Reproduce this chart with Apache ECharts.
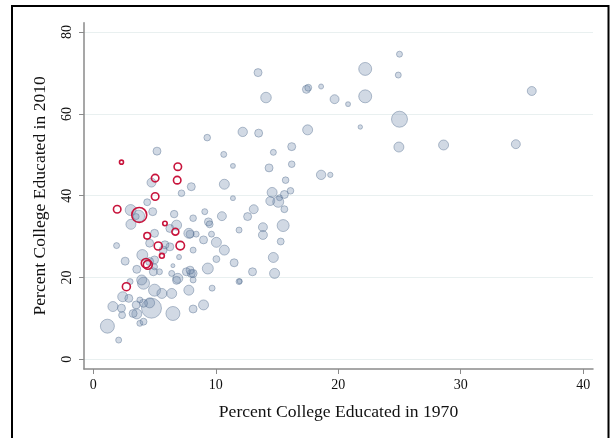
<!DOCTYPE html>
<html>
<head>
<meta charset="utf-8">
<script src="https://cdn.jsdelivr.net/npm/echarts@6/dist/echarts.min.js"></script>
<style>
html,body{margin:0;padding:0;background:#fff;}
#chart{width:613px;height:438px;}
</style>
</head>
<body>
<div id="chart"></div>
<script>
// ---- Data ----
var xTicks = [0, 10, 20, 30, 40];
var yTicks = [0, 20, 40, 60, 80];
var xTitle = 'Percent College Educated in 1970';
var yTitle = 'Percent College Educated in 2010';

// All metro areas: percent college educated 1970, 2010, population weight
var grayX1970 = [13.45,14.1,12.2,13.5,9.3,17.5,16.2,5.2,10.65,14.7,11.4,16.2,14.35,18.6,19.35,15.7,16.1,14.6,15.6,15.2,14.45,15.1,15.6,10.7,8.0,7.2,11.4,13.1,9.1,10.5,12.6,6.6,4.85,4.4,4.75,3.05,8.15,25.0,22.2,24.9,17.4,17.55,18.6,19.7,20.8,22.2,35.8,25.0,21.8,24.95,28.6,34.5,
  9.4,9.5,13.85,13.85,11.9,15.5,15.3,14.7,14.8,13.0,11.9,11.5,10.05,10.7,10.05,9.0,9.65,8.4,8.15,9.35,9.7,8.0,7.9,9.0,8.15,7.8,6.5,4.75,3.55,3.8,2.07,1.15,1.6,2.35,2.3,2.4,2.9,4.6,4.1,3.8,4.1,3.95,3.0,5.0,5.6,6.4,6.9,6.8,8.15,7.6,8.15,6.4,6.5,5.4,4.9,5.0,4.0,3.55,2.6,1.9,4.6,5.0,5.7,6.25,7.0,6.25,6.8,7.8,5.85,3.07,3.7,4.6,5.0,7.9,4.1,11.95,3.5,3.25,3.5];
var grayY2010 = [70.1,64.0,55.6,55.3,54.2,56.1,52.0,50.9,50.1,50.6,47.3,47.7,46.8,45.1,45.1,43.8,41.2,40.8,40.3,39.5,38.7,38.5,36.7,42.8,42.2,40.6,39.4,36.7,36.1,35.0,34.9,35.5,36.1,38.4,43.2,36.5,34.5,74.6,71.0,69.5,66.0,66.4,66.7,63.6,62.4,64.3,65.6,58.7,56.8,51.9,52.4,52.6,
  33.6,33.0,32.3,30.4,31.6,32.7,28.8,24.9,21.0,21.4,19.0,23.6,24.5,26.7,28.6,29.2,30.6,30.6,26.7,22.2,17.4,21.0,30.6,13.3,12.3,16.9,11.2,12.5,11.1,8.8,4.7,8.1,12.9,10.8,12.5,15.3,14.9,13.8,13.7,14.5,18.6,19.4,19.0,16.9,16.1,16.1,19.8,19.3,19.4,21.4,21.0,21.0,22.9,21.4,21.4,24.3,25.5,22.0,24.0,27.8,28.4,30.8,26.7,27.5,25.0,32.0,32.8,30.8,28.0,33.0,35.0,23.9,22.6,21.8,9.2,19.1,34.9,11.2,13.3];
var grayPop = [16,28,22,16,11,25,16,16,9,9,6,11,16,22,7,11,11,25,16,9,20,30,12,25,16,11,6,20,9,20,16,14,16,12,20,30,11,9,42,9,16,12,6,20,6,42,20,64,5,25,25,20,
  16,12,20,20,9,36,12,25,25,16,9,16,12,25,25,16,9,9,9,30,9,16,16,25,16,25,49,100,25,9,9,49,25,12,16,25,16,25,16,9,36,25,9,36,25,25,25,16,9,16,16,9,4,9,16,16,30,16,16,9,16,16,16,16,6,16,25,25,16,25,36,16,9,16,12,6,9,16,16];

// Highlighted metro areas (red hollow circles)
var redX1970 = [2.3,6.9,5.05,6.85,5.05,1.95,3.75,5.85,6.7,4.4,5.3,7.1,5.6,4.3,4.45,2.7];
var redY2010 = [48.2,47.1,44.3,43.8,39.8,36.7,35.3,33.2,31.2,30.2,27.7,27.8,25.3,23.5,23.1,17.75];
var redPop = [4,14,14,14,14,14,56,5,12,11,16,18,6,22,20,16];

function pts(xs, ys, ws) {
  var out = [];
  for (var i = 0; i < xs.length; i++) out.push([xs[i], ys[i], ws[i]]);
  return out;
}

var chart = echarts.init(document.getElementById('chart'), null, {renderer: 'canvas'});
var serif = '"Liberation Serif", "DejaVu Serif", serif';
var axisGray = '#8a8a8a';

chart.setOption({
  animation: false,
  backgroundColor: '#ffffff',
  grid: {left: 84, right: 20, top: 22.7, bottom: 69, containLabel: false},
  xAxis: {
    type: 'value', min: -0.76, max: 40.8,
    name: xTitle, nameLocation: 'middle', nameGap: 34,
    nameTextStyle: {fontFamily: serif, fontSize: 17.6, color: '#111'},
    axisLine: {show: true, onZero: false, lineStyle: {color: axisGray, width: 1.5}},
    axisTick: {show: true, length: 5, customValues: xTicks, lineStyle: {color: axisGray, width: 1}},
    axisLabel: {customValues: xTicks, fontFamily: serif, fontSize: 14, color: '#111', margin: 9},
    splitLine: {show: false}
  },
  yAxis: {
    type: 'value', min: -2.37, max: 82.3,
    name: yTitle, nameLocation: 'middle', nameGap: 35,
    nameTextStyle: {fontFamily: serif, fontSize: 17.6, color: '#111'},
    axisLine: {show: true, onZero: false, lineStyle: {color: axisGray, width: 1.5}},
    axisTick: {show: true, length: 5, customValues: yTicks, lineStyle: {color: axisGray, width: 1}},
    axisLabel: {customValues: yTicks, rotate: 90, fontFamily: serif, fontSize: 14, color: '#111', margin: 10},
    splitLine: {show: true, lineStyle: {color: '#e9f0f0', width: 1.2}}
  },
  graphic: [{
    type: 'rect', silent: true, z: 100,
    shape: {x: 12, y: 6, width: 596.5, height: 440},
    style: {fill: 'none', stroke: '#000', lineWidth: 2}
  }],
  series: [{
    type: 'scatter',
    data: pts(grayX1970, grayY2010, grayPop),
    symbolSize: function (v) { return 2 * Math.sqrt(v[2]); },
    itemStyle: {color: 'rgba(120,145,175,0.34)', borderColor: 'rgba(80,108,140,0.42)', borderWidth: 1, opacity: 1},
    z: 2
  }, {
    type: 'scatter',
    data: pts(redX1970, redY2010, redPop),
    symbolSize: function (v) { return 2 * Math.sqrt(v[2]); },
    itemStyle: {color: 'rgba(0,0,0,0)', borderColor: '#c8143c', borderWidth: 1.6, opacity: 1},
    z: 3
  }]
});
</script>
</body>
</html>
